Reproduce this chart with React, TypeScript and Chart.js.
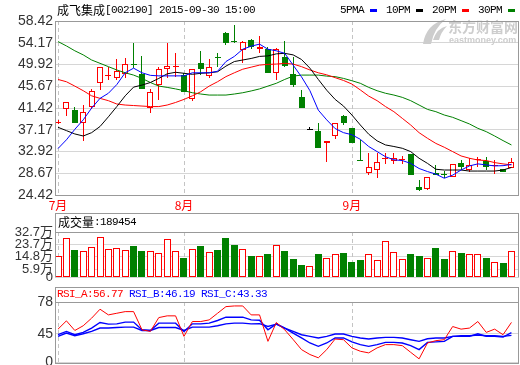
import React, { useEffect, useRef } from "react";
import { Chart, registerables } from "chart.js";

Chart.register(...registerables);

// ---------- data ----------
const TITLE = "成飞集成[002190] 2015-09-30 15:00";
const LEGEND_NAMES = ["5PMA", "10PM", "20PM", "30PM"];
const MONTH_LABELS = ["7月", "8月", "9月"];
const MONTH_INDEX = [0, 15, 35];

const OPEN = [38.5, 41.16, 41.0, 38.4, 41.7, 46.3, 47.6, 47.2, 48.1, 50.1, 48.1, 41.4, 45.9, 49.1, 49.4, 47.9, 43.1, 50.3, 47.7, 51.3, 56.1, 54.5, 52.75, 54.8, 52.9, 52.9, 48.2, 51.3, 48.1, 43.5, 37.2, 37.0, 34.5, 35.95, 39.9, 37.45, 31.15, 28.7, 29.4, 31.5, 31.1, 31.2, 32.4, 25.95, 25.5, 28.8, 28.5, 28.0, 30.75, 29.3, 31.3, 31.1, 30.0, 29.45, 29.65];
const CLOSE = [38.7, 42.53, 38.4, 40.7, 44.8, 49.4, 47.8, 48.7, 49.95, 49.9, 45.1, 44.6, 49.0, 49.6, 49.6, 44.6, 49.0, 49.0, 49.4, 51.1, 54.1, 54.4, 54.4, 53.3, 53.3, 48.2, 52.9, 49.6, 45.9, 41.4, 37.2, 33.6, 35.0, 38.4, 38.4, 34.5, 31.05, 29.95, 30.9, 31.7, 31.6, 31.35, 28.3, 25.45, 28.0, 28.35, 28.4, 30.5, 29.95, 30.3, 31.45, 29.8, 30.15, 29.0, 30.9];
const HIGH = [39.1, 42.6, 41.6, 42.0, 45.1, 49.5, 49.5, 50.9, 51.1, 54.1, 51.6, 45.2, 49.4, 54.1, 52.1, 48.2, 49.0, 52.6, 50.9, 52.2, 56.3, 57.6, 54.6, 55.0, 55.5, 53.3, 53.1, 54.6, 51.4, 44.9, 37.75, 38.4, 35.0, 38.5, 40.0, 37.5, 35.2, 32.7, 32.7, 32.6, 32.6, 32.0, 32.5, 27.35, 28.0, 30.3, 29.1, 30.5, 31.3, 31.7, 31.9, 31.9, 31.3, 29.5, 31.7];
const LOW = [38.2, 39.9, 38.4, 35.0, 41.2, 44.9, 46.9, 46.9, 47.2, 49.2, 45.1, 40.5, 42.9, 47.2, 47.4, 44.6, 42.7, 47.9, 47.2, 49.4, 53.7, 54.1, 50.3, 52.9, 52.2, 48.2, 46.8, 49.4, 45.6, 41.4, 37.2, 33.6, 30.9, 35.3, 38.1, 34.5, 31.0, 28.3, 27.7, 30.5, 30.5, 30.5, 28.3, 25.25, 25.4, 28.3, 27.8, 28.0, 29.4, 29.0, 29.95, 29.3, 28.5, 28.9, 29.6];

const MA5 = [33.5, 35.2, 37.25, 39.1, 41.4, 43.3, 44.3, 46.0, 48.3, 49.2, 48.3, 47.8, 47.7, 47.7, 47.7, 47.7, 48.3, 48.3, 48.3, 48.6, 50.5, 51.5, 52.9, 53.5, 53.9, 52.9, 52.6, 52.1, 49.8, 47.5, 44.8, 41.0, 39.1, 37.4, 36.6, 36.2, 35.3, 33.9, 32.9, 31.9, 31.3, 31.15, 30.6, 29.6, 29.0, 28.5, 27.7, 28.3, 29.3, 30.1, 30.5, 30.3, 30.1, 30.15, 30.4];
const MA10 = [37.65, 37.0, 36.35, 35.95, 36.6, 37.8, 39.7, 41.7, 43.8, 45.5, 45.9, 46.4, 47.2, 48.1, 48.4, 48.2, 48.0, 48.2, 48.3, 48.5, 49.6, 50.5, 50.8, 51.1, 51.5, 51.6, 52.0, 52.1, 51.8, 50.9, 49.2, 47.0, 44.9, 43.1, 41.8, 40.05, 38.1, 36.3, 35.0, 34.2, 33.9, 33.55, 32.9, 31.6, 30.6, 29.45, 29.3, 29.3, 29.3, 29.1, 29.1, 29.1, 29.1, 29.3, 29.8];
const MA20 = [47.0, 46.55, 45.7, 44.8, 43.8, 43.3, 42.85, 42.2, 42.0, 41.9, 41.8, 41.7, 41.7, 42.0, 42.5, 43.1, 43.8, 44.6, 45.7, 46.55, 47.55, 48.3, 49.0, 49.4, 49.8, 49.95, 50.0, 50.15, 50.0, 49.5, 48.85, 48.3, 47.9, 47.35, 46.8, 46.1, 44.95, 43.75, 42.85, 41.7, 40.7, 39.4, 38.1, 36.6, 35.5, 34.5, 33.75, 32.9, 32.05, 31.6, 31.25, 31.15, 30.75, 30.5, 30.3];
const MA30 = [54.4, 53.55, 52.6, 51.8, 50.8, 50.15, 49.5, 48.85, 48.3, 47.85, 47.2, 46.4, 45.7, 45.45, 45.15, 44.8, 44.4, 44.15, 43.95, 43.95, 43.95, 44.15, 44.4, 44.75, 45.15, 45.7, 46.25, 47.0, 47.65, 47.85, 47.85, 47.85, 47.65, 47.55, 47.2, 46.75, 46.25, 45.45, 44.8, 44.3, 43.95, 43.5, 42.85, 42.0, 41.15, 40.7, 40.05, 39.6, 38.95, 38.3, 37.45, 36.8, 35.95, 35.05, 34.2];

const VOLUME_WAN = [15.4, 28.5, 19.7, 18.9, 21.6, 29.2, 20.3, 21.0, 19.6, 22.5, 19.2, 19.1, 17.6, 27.3, 19.1, 13.6, 20.2, 22.5, 18.4, 19.7, 28.1, 23.2, 20.2, 15.4, 15.4, 17.0, 23.2, 19.3, 13.5, 8.7, 7.8, 17.0, 14.2, 16.8, 17.7, 10.7, 12.3, 16.8, 12.1, 26.5, 18.4, 13.5, 17.0, 15.6, 14.2, 21.1, 13.5, 19.1, 17.7, 16.8, 16.8, 14.2, 10.7, 10.0, 18.95];
const VOLUME_LAST = 189454;

const RSI_A = [49.8, 58.4, 48.4, 53.3, 61.2, 70.5, 64.6, 66.3, 68.0, 68.0, 49.1, 47.4, 61.8, 63.6, 63.6, 42.3, 57.7, 57.7, 59.4, 66.3, 73.2, 73.9, 73.9, 64.6, 64.6, 37.1, 56.7, 49.1, 39.0, 28.5, 23.4, 20.0, 28.5, 39.5, 38.8, 30.3, 26.8, 25.1, 30.3, 33.7, 33.7, 32.6, 25.7, 18.9, 35.4, 37.8, 38.8, 52.5, 49.8, 50.9, 57.7, 46.4, 49.8, 44.0, 56.77];
const RSI_B = [44.0, 47.4, 44.0, 46.4, 50.9, 56.7, 55.0, 55.3, 57.1, 57.1, 49.1, 48.4, 56.0, 56.0, 56.0, 47.4, 55.3, 55.3, 56.0, 58.8, 62.2, 62.2, 62.2, 59.4, 59.0, 49.1, 55.3, 50.9, 45.7, 40.6, 35.4, 31.9, 35.4, 40.6, 40.6, 36.5, 33.7, 31.9, 33.7, 36.0, 36.0, 35.4, 32.6, 28.5, 36.0, 36.5, 37.1, 42.3, 42.3, 42.3, 45.0, 42.3, 42.3, 41.6, 46.19];
const RSI_C = [42.3, 45.7, 43.0, 45.0, 47.4, 50.9, 50.9, 51.5, 51.9, 51.9, 48.4, 48.4, 51.5, 51.5, 51.5, 48.4, 51.9, 51.9, 51.9, 53.3, 55.3, 56.0, 56.0, 55.3, 55.5, 52.5, 55.0, 50.9, 47.4, 44.0, 42.3, 40.6, 42.3, 44.7, 44.7, 42.3, 40.6, 39.5, 40.6, 41.2, 41.2, 40.6, 38.8, 37.1, 39.8, 40.6, 40.6, 42.3, 42.9, 42.9, 43.7, 42.9, 42.9, 42.3, 43.33];
const RSI_NAMES = ["RSI_A", "RSI_B", "RSI_C"];

const PRICE_TICKS = [24.42, 28.67, 32.92, 37.17, 41.42, 45.67, 49.92, 54.17, 58.42];
const VOL_TICKS = [0, 5.9, 14.8, 23.7, 32.7];
const RSI_TICKS = [15, 45, 78];
const RSI_TICK_LABELS = ["0", "45", "78"];

// ---------- styles ----------
const RED = "#ff0000";
const GREEN = "#008000";
const BLUE = "#0000ff";
const BLACK = "#000000";
const MA_COLORS = [BLUE, BLACK, RED, GREEN];
const GRID = "#d6d6d6";
const FRAME = "#999999";
const DASH = "#c4c4c4";
const X_MIN = -0.36;
const X_MAX = 54.9;
const STEP_PX = 8.4;
const CJK = "'Noto Sans CJK SC'";
const MONO = "'Liberation Mono', 'DejaVu Sans Mono', monospace";
const AXIS_FONT = "'Liberation Sans Narrow', 'Liberation Sans', 'Noto Sans CJK SC', sans-serif";

function drawMono(ctx: any, text: string, x: number, y: number, color: string) {
  ctx.save();
  ctx.fillStyle = color;
  ctx.textBaseline = "middle";
  ctx.textAlign = "left";
  let cx = x;
  for (const ch of text) {
    const wide = (ch.codePointAt(0) || 0) > 0x2e80;
    ctx.font = wide ? `12px ${CJK}` : `11px ${MONO}`;
    ctx.fillText(ch, cx, y);
    cx += wide ? 12 : 6;
  }
  ctx.restore();
  return cx - x;
}

function drawMonthLines(chart: any) {
  const { ctx, chartArea: a, scales } = chart;
  ctx.save();
  ctx.strokeStyle = DASH;
  ctx.lineWidth = 1;
  ctx.setLineDash([4, 3]);
  MONTH_INDEX.forEach((i) => {
    const px = Math.round(scales.x.getPixelForValue(i)) + 0.5;
    ctx.beginPath();
    ctx.moveTo(px, a.top);
    ctx.lineTo(px, a.bottom);
    ctx.stroke();
  });
  ctx.restore();
}

function strokeBox(ctx: any, l: number, t: number, r: number, b: number) {
  ctx.save();
  ctx.strokeStyle = FRAME;
  ctx.lineWidth = 1;
  ctx.strokeRect(Math.round(l) + 0.5, Math.round(t) + 0.5, Math.round(r) - Math.round(l) - 1, Math.round(b) - Math.round(t));
  ctx.restore();
}

// snap the bar elements that Chart.js laid out onto whole pixels so 1px borders stay crisp
const pixelSnap = {
  id: "pixelSnap",
  afterDatasetsUpdate(chart: any) {
    chart.data.datasets.forEach((_: any, di: number) => {
      const meta = chart.getDatasetMeta(di);
      if (meta.type !== "bar") return;
      meta.data.forEach((el: any) => {
        const w = Math.max(1, Math.round(el.width));
        const left = Math.round(el.x - w / 2);
        el.width = w;
        el.x = left + w / 2;
        let top = Math.round(el.y);
        let base = Math.round(el.base);
        if (Math.abs(base - top) < 1) base = top + 1;
        el.y = top;
        el.base = base;
      });
    });
  },
};

const idx = OPEN.map((_, i) => i);
const dir = idx.map((i) => (CLOSE[i] > OPEN[i] ? 1 : CLOSE[i] < OPEN[i] ? -1 : 0));
const candleColor = dir.map((d) => (d > 0 ? RED : d < 0 ? GREEN : BLACK));
const bodyFill = dir.map((d) => (d > 0 ? "#ffffff" : d < 0 ? GREEN : BLACK));
const volColor = dir.map((d) => (d < 0 ? GREEN : RED));
const volFill = dir.map((d) => (d < 0 ? GREEN : "#ffffff"));

function xAxis(show: boolean, height: number) {
  return {
    type: "linear",
    min: X_MIN,
    max: X_MAX,
    offset: false,
    display: show,
    grid: { display: false, drawTicks: false, offset: false },
    border: { display: false },
    afterBuildTicks: (s: any) => {
      s.ticks = MONTH_INDEX.map((v) => ({ value: v }));
    },
    afterFit: (s: any) => {
      s.height = height;
    },
    ticks: {
      autoSkip: false,
      maxRotation: 0,
      padding: 3,
      color: RED,
      font: { family: CJK, size: 12 },
      callback: (v: any) => {
        const k = MONTH_INDEX.indexOf(Number(v));
        return k >= 0 ? MONTH_LABELS[k] : "";
      },
    },
  };
}

function yAxis(min: number, max: number, ticks: number[], fmt: (v: number) => string, size: number) {
  return {
    type: "linear",
    min,
    max,
    stacked: false,
    afterBuildTicks: (s: any) => {
      s.ticks = ticks.map((v) => ({ value: v }));
    },
    afterFit: (s: any) => {
      s.width = 55;
    },
    grid: { color: GRID, drawTicks: false },
    border: { display: false },
    ticks: {
      autoSkip: false,
      padding: 2,
      color: "#333333",
      font: { family: AXIS_FONT, size },
      callback: (v: any) => fmt(Number(v)),
    },
  };
}

const baseOpts = {
  responsive: false,
  animation: false,
  events: [],
  plugins: { legend: { display: false }, tooltip: { enabled: false } },
};

// bar width in px -> fraction of the spacing between two trading days
const frac = (px: number) => px / STEP_PX;

function makeMain(canvas: HTMLCanvasElement) {
  const line = (data: number[], color: string) => ({
    type: "line",
    data: idx.map((i) => ({ x: i, y: data[i] })),
    borderColor: color,
    borderWidth: 1,
    pointRadius: 0,
    tension: 0,
    order: 0,
  });
  const decor = {
    id: "mainDecor",
    beforeDatasetsDraw(chart: any) {
      const { ctx } = chart;
      drawMonthLines(chart);
      ctx.save();
      ctx.fillStyle = "#cdcdcd";
      ctx.beginPath();
      ctx.moveTo(423, 44);
      ctx.quadraticCurveTo(426, 24, 446, 19);
      ctx.quadraticCurveTo(434, 28, 431, 44);
      ctx.closePath();
      ctx.fill();
      ctx.beginPath();
      ctx.moveTo(433, 40);
      ctx.quadraticCurveTo(437, 28, 447, 26);
      ctx.quadraticCurveTo(441, 32, 439, 40);
      ctx.closePath();
      ctx.fill();
      ctx.textBaseline = "middle";
      ctx.textAlign = "left";
      ctx.font = `bold 14px ${CJK}`;
      ctx.fillText("东方财富网", 448, 27);
      ctx.font = "bold 9px 'Liberation Sans', sans-serif";
      ctx.fillText("eastmoney.com", 449, 41);
      ctx.restore();
    },
    afterDraw(chart: any) {
      const { ctx, chartArea: a } = chart;
      strokeBox(ctx, a.left, a.top, a.right, a.bottom);
      drawMono(ctx, TITLE, 57, 10, BLACK);
      let x = 340;
      LEGEND_NAMES.forEach((n, k) => {
        drawMono(ctx, n, x, 10, BLACK);
        ctx.save();
        ctx.fillStyle = MA_COLORS[k];
        ctx.fillRect(x + 30, 9, 7, 3);
        ctx.restore();
        x += 46;
      });
    },
  };
  return new Chart(canvas as any, {
    type: "bar",
    data: {
      datasets: [
        line(MA5, BLUE),
        line(MA10, BLACK),
        line(MA20, RED),
        line(MA30, GREEN),
        {
          type: "bar",
          data: idx.map((i) => ({ x: i, y: [OPEN[i], CLOSE[i]] })),
          backgroundColor: bodyFill,
          borderColor: candleColor,
          borderWidth: 1,
          borderSkipped: false,
          grouped: false,
          categoryPercentage: 1,
          barPercentage: frac(6),
          minBarLength: 1,
          order: 5,
        },
        {
          type: "bar",
          data: idx.map((i) => ({ x: i, y: [LOW[i], HIGH[i]] })),
          backgroundColor: candleColor,
          borderWidth: 0,
          grouped: false,
          categoryPercentage: 1,
          barPercentage: frac(1),
          order: 6,
        },
      ],
    } as any,
    options: {
      ...baseOpts,
      layout: { padding: { left: 0, right: 1, top: 21, bottom: 0 } },
      scales: {
        x: xAxis(true, 20),
        y: yAxis(24.42, 58.42, PRICE_TICKS, (v) => v.toFixed(2), 14),
      },
    } as any,
    plugins: [pixelSnap, decor],
  });
}

function makeVolume(canvas: HTMLCanvasElement) {
  const decor = {
    id: "volDecor",
    beforeDatasetsDraw(chart: any) {
      drawMonthLines(chart);
    },
    afterDraw(chart: any) {
      const { ctx, chartArea: a } = chart;
      strokeBox(ctx, a.left, 3, a.right, a.top);
      ctx.save();
      ctx.strokeStyle = FRAME;
      ctx.beginPath();
      ctx.moveTo(Math.round(a.left) + 0.5, a.top);
      ctx.lineTo(Math.round(a.left) + 0.5, a.bottom);
      ctx.moveTo(Math.round(a.right) - 0.5, a.top);
      ctx.lineTo(Math.round(a.right) - 0.5, a.bottom);
      ctx.stroke();
      ctx.restore();
      drawMono(ctx, "成交量:" + VOLUME_LAST, 58, 12.5, BLACK);
    },
  };
  return new Chart(canvas as any, {
    type: "bar",
    data: {
      datasets: [
        {
          data: idx.map((i) => ({ x: i, y: VOLUME_WAN[i] })),
          backgroundColor: volFill,
          borderColor: volColor,
          borderWidth: 1,
          borderSkipped: false,
          grouped: false,
          categoryPercentage: 1,
          barPercentage: frac(7),
        },
      ],
    } as any,
    options: {
      ...baseOpts,
      layout: { padding: { left: 0, right: 1, top: 22, bottom: 8 } },
      scales: {
        x: { type: "linear", min: X_MIN, max: X_MAX, offset: false, display: false, grid: { offset: false } },
        y: yAxis(0, 32.7, VOL_TICKS, (v) => (v === 0 ? "0" : v + "万"), 13),
      },
    } as any,
    plugins: [pixelSnap, decor],
  });
}

function makeRsi(canvas: HTMLCanvasElement) {
  const series = [RSI_A, RSI_B, RSI_C];
  const colors = [RED, BLUE, BLUE];
  const decor = {
    id: "rsiDecor",
    beforeDatasetsDraw(chart: any) {
      drawMonthLines(chart);
    },
    afterDraw(chart: any) {
      const { ctx, chartArea: a } = chart;
      strokeBox(ctx, a.left, 2, a.right, a.top);
      strokeBox(ctx, a.left, a.top, a.right, a.bottom);
      let x = 57;
      RSI_NAMES.forEach((n, k) => {
        const s = series[k];
        const w = drawMono(ctx, `${n}:${s[s.length - 1].toFixed(2)}`, x, 9.5, colors[k]);
        x += w + 6;
      });
    },
  };
  return new Chart(canvas as any, {
    type: "line",
    data: {
      datasets: series.map((s, k) => ({
        data: idx.map((i) => ({ x: i, y: s[i] })),
        borderColor: colors[k],
        borderWidth: k === 0 ? 1 : 1.4,
        pointRadius: 0,
        tension: 0,
        order: k === 0 ? 0 : 1,
      })),
    } as any,
    options: {
      ...baseOpts,
      layout: { padding: { left: 0, right: 1, top: 17, bottom: 10 } },
      scales: {
        x: { type: "linear", min: X_MIN, max: X_MAX, offset: false, display: false },
        y: yAxis(15, 78, RSI_TICKS, (v) => RSI_TICK_LABELS[RSI_TICKS.indexOf(v)] ?? "", 14),
      },
    } as any,
    plugins: [decor],
  });
}

export default function App() {
  const mainRef = useRef<HTMLCanvasElement>(null);
  const volRef = useRef<HTMLCanvasElement>(null);
  const rsiRef = useRef<HTMLCanvasElement>(null);

  useEffect(() => {
    const charts = [makeMain(mainRef.current!), makeVolume(volRef.current!), makeRsi(rsiRef.current!)];
    return () => charts.forEach((c) => c.destroy());
  }, []);

  return (
    <div style={{ position: "absolute", left: 0, top: 0, width: 520, height: 365, overflow: "hidden", background: "#ffffff" }}>
      <canvas ref={mainRef} width={520} height={215} style={{ position: "absolute", left: 0, top: 0 }} />
      <canvas ref={volRef} width={520} height={77} style={{ position: "absolute", left: 0, top: 210 }} />
      <canvas ref={rsiRef} width={520} height={88} style={{ position: "absolute", left: 0, top: 285 }} />
    </div>
  );
}
